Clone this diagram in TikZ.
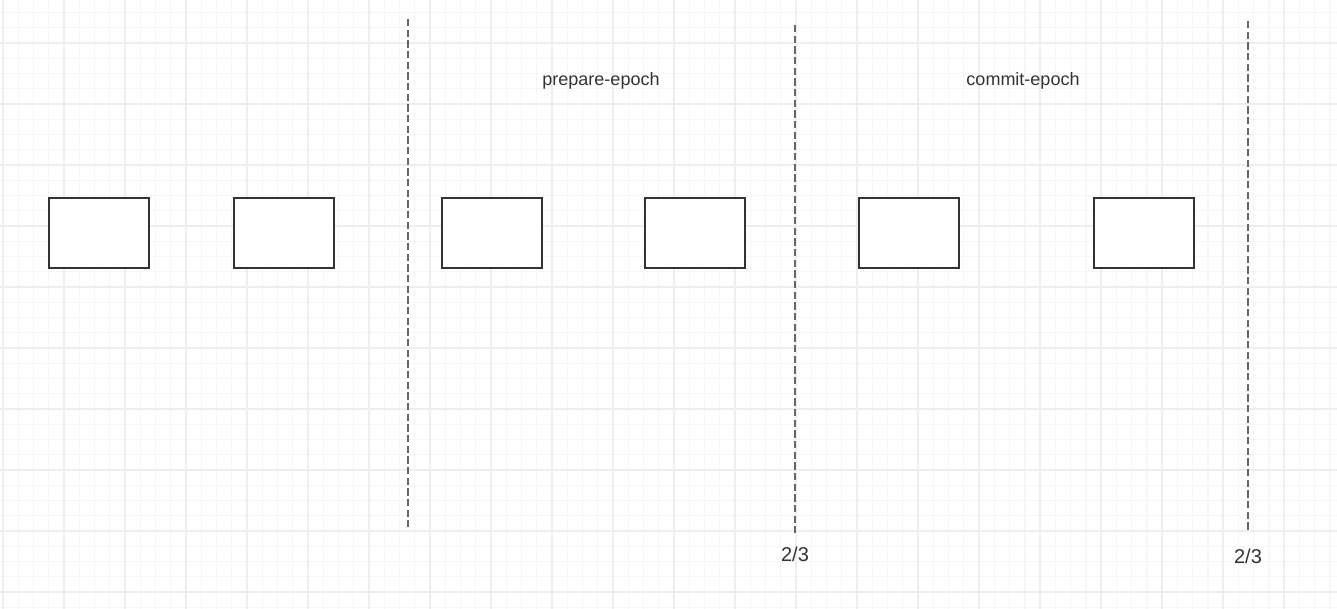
\documentclass[tikz,border=0pt]{standalone}
\usepackage{fontspec}
\setmainfont{Liberation Sans}
\definecolor{minorgrid}{HTML}{F6F6F6}
\definecolor{majorgrid}{HTML}{EEEEEE}
\definecolor{myline}{HTML}{666666}
\definecolor{mybox}{HTML}{333333}

\begin{document}
\begin{tikzpicture}[x=0.75pt,y=-0.75pt]
\tikzset{block/.style ={draw=mybox, line width=1pt, fill=white, minimum width=75pt, minimum height=52.5pt, inner sep=0pt}}
\tikzset{epochlabel/.style ={text=mybox, font=\fontsize{13.5}{16}\selectfont}}
\tikzset{ratio/.style ={text=mybox, font=\fontsize{15}{18}\selectfont}}
\tikzset{boundary/.style ={draw=myline, line width=1.5pt, dash pattern=on 5.5pt off 2.5pt}}
\useasboundingbox (0,0) rectangle (1337,609);
% grid
\foreach \k in {0,...,87} \draw[minorgrid, line width=1.1pt] ({3+15.25*\k},0) -- ++(0,609);
\foreach \k in {1,...,41} \draw[minorgrid, line width=1.1pt] (0,{-18+15.25*\k}) -- ++(1337,0);
\foreach \k in {0,...,21} \draw[majorgrid, line width=1.5pt] ({3+61*\k},0) -- ++(0,609);
\foreach \k in {1,...,10} \draw[majorgrid, line width=1.5pt] (0,{-18+61*\k}) -- ++(1337,0);
% blocks
\node[block] (b1) at (99,233) {};
\node[block] (b2) at (284,233) {};
\node[block] (b3) at (492,233) {};
\node[block] (b4) at (695,233) {};
\node[block] (b5) at (909,233) {};
\node[block] (b6) at (1144,233) {};
% epoch boundaries
\coordinate (s1) at (408,19);
\coordinate (e1) at (408,527);
\coordinate (s2) at (795,25);
\coordinate (e2) at (795,533);
\coordinate (s3) at (1248,21);
\coordinate (e3) at (1248,533);
\draw[boundary] (s1) -- (e1);
\draw[boundary] (s2) -- (e2);
\draw[boundary] (s3) -- (e3);
% labels
\node[epochlabel] (prep) at (601,80.5) {prepare-epoch};
\node[epochlabel] (comm) at (1023,80.5) {commit-epoch};
\node[ratio] (r1) at (795,554) {2/3};
\node[ratio] (r2) at (1248,556) {2/3};
\end{tikzpicture}
\end{document}
